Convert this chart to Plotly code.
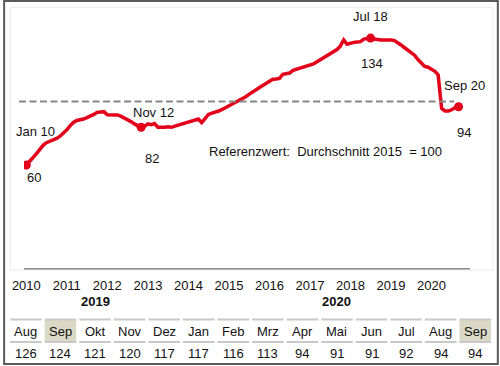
import plotly.graph_objects as go

# ---------------- data ----------------
months = [f"{y}-{m:02d}-01" for y in range(2010, 2021) for m in range(1, 13)][:129]  # Jan 2010 .. Sep 2020

values = [
    # 2010
    60, 62, 64, 66.5, 69, 71.5, 73, 73.8, 74.3, 75.5, 76.8, 78.5,
    # 2011
    80.5, 83, 84.8, 86, 86.3, 86.8, 87.6, 88.3, 89.5, 90.7, 91.1, 91.1,
    # 2012
    89.3, 89.2, 89.2, 89.2, 88.5, 87.6, 86.5, 85.3, 84, 83, 82, 82.5,
    # 2013
    84, 83.5, 84.2, 82, 81.8, 82, 82.3, 82, 82.7, 83.3, 83.7, 84.3,
    # 2014
    84.8, 85.3, 85.8, 86.8, 84.7, 87, 89.5, 90.3, 90.7, 91.5, 92.4, 93.4,
    # 2015
    94.4, 95.3, 96.3, 97.8, 98.8, 99.8, 101.2, 102.3, 103.5, 105, 106.3, 107.5,
    # 2016
    109, 110, 110.2, 110.5, 112.9, 113.2, 113.6, 115.2, 115.8, 116.4, 116.8, 117.3,
    # 2017
    118, 118.9, 120, 121.2, 122.2, 123.5, 125, 126.2, 127.3, 129.3, 132.9, 130.4,
    # 2018
    131.2, 131.5, 131.7, 131.9, 133.4, 133.6, 134, 133.4, 133, 132.9, 132.9, 133,
    # 2019
    132.9, 132.5, 131.5, 130, 128.5, 127, 125.5, 124, 121.5, 119.5, 117.5, 117,
    # 2020
    116, 114.6, 112.5, 93, 91.5, 91.5, 92.2, 93.5, 94,
]

year_ticks = [f"{y}-01-01" for y in range(2010, 2021)]
year_labels = [str(y) for y in range(2010, 2021)]

# highlighted points
hl_dates = ["2010-01-01", "2012-11-01", "2018-07-01", "2020-09-01"]
hl_names = ["Jan 10", "Nov 12", "Jul 18", "Sep 20"]
hl_values = [60, 82, 134, 94]

ref_value = 97          # dashed reference line as drawn
ref_text = "Referenzwert:  Durchschnitt 2015  = 100"

table_months = ["Aug", "Sep", "Okt", "Nov", "Dez", "Jan", "Feb",
                "Mrz", "Apr", "Mai", "Jun", "Jul", "Aug", "Sep"]
table_values = [126, 124, 121, 120, 117, 117, 116, 113, 94, 91, 91, 92, 94, 94]
table_years = {2: "2019", 9: "2020"}
table_highlight = [1, 13]

# ---------------- layout helpers ----------------
W, H = 500, 366
L, R, T, B = 21, 470, 20, 268  # plot area in pixels
RED = "#e3001b"
FONT = "Liberation Sans, Arial, sans-serif"


def px(x):
    return (x - L) / (R - L)


def py(y):
    return (B - y) / (B - T)


fig = go.Figure()

fig.add_trace(go.Scatter(
    x=months, y=values, mode="lines",
    line=dict(color=RED, width=3.5), hoverinfo="skip", showlegend=False))

fig.add_trace(go.Scatter(
    x=hl_dates, y=hl_values, mode="markers",
    marker=dict(color=RED, size=9), hoverinfo="skip", showlegend=False))

# reference dashed line
fig.add_shape(type="line", xref="paper", yref="y",
              x0=px(16), x1=px(454), y0=ref_value, y1=ref_value,
              line=dict(color="#858585", width=2, dash="7px,3.5px"))

annotations = []
name_shift = [(9, 34), (12, 15), (0, 22), (6, 21)]
val_shift = [(8, -12), (11, -31), (1, -25), (5, -26)]
for d, n, v, ns, vs in zip(hl_dates, hl_names, hl_values, name_shift, val_shift):
    annotations.append(dict(x=d, y=v, xref="x", yref="y", text=n, showarrow=False,
                            xshift=ns[0], yshift=ns[1], xanchor="center", yanchor="middle",
                            font=dict(size=13, color="#111")))
    annotations.append(dict(x=d, y=v, xref="x", yref="y", text=str(v), showarrow=False,
                            xshift=vs[0], yshift=vs[1], xanchor="center", yanchor="middle",
                            font=dict(size=13, color="#111")))

annotations.append(dict(x=px(205), y=py(151), xref="paper", yref="paper", text=ref_text,
                        showarrow=False, xanchor="left", yanchor="middle",
                        font=dict(size=13, color="#111")))

# ---------------- table ----------------
col_x0, col_w, gap = 7, 34.8, 3
shapes = []
for i, (mname, val) in enumerate(zip(table_months, table_values)):
    x0 = col_x0 + i * col_w
    x1 = x0 + col_w - gap
    xc = (x0 + x1) / 2
    if i in table_highlight:
        shapes.append(dict(type="rect", xref="paper", yref="paper",
                           x0=px(x0), x1=px(x1), y0=py(342), y1=py(320),
                           fillcolor="#dcd8c6", line=dict(width=0), layer="below"))
    for yy in (319.5, 342):
        shapes.append(dict(type="line", xref="paper", yref="paper",
                           x0=px(x0), x1=px(x1), y0=py(yy), y1=py(yy),
                           line=dict(color="#c8c8c8", width=2)))
    annotations.append(dict(x=px(xc), y=py(331.5), xref="paper", yref="paper", text=mname,
                            showarrow=False, xanchor="center", yanchor="middle",
                            font=dict(size=13, color="#111")))
    annotations.append(dict(x=px(xc), y=py(353), xref="paper", yref="paper", text=str(val),
                            showarrow=False, xanchor="center", yanchor="middle",
                            font=dict(size=13, color="#111")))
    if i in table_years:
        annotations.append(dict(x=px(xc), y=py(301), xref="paper", yref="paper",
                                text=f"<b>{table_years[i]}</b>",
                                showarrow=False, xanchor="center", yanchor="middle",
                                font=dict(size=13, color="#111")))

# frame
shapes.append(dict(type="rect", xref="paper", yref="paper",
                   x0=px(7.5), x1=px(493), y0=py(270), y1=py(7.5),
                   line=dict(color="#ececec", width=1)))
shapes.append(dict(type="rect", xref="paper", yref="paper",
                   x0=px(1), x1=px(W - 2), y0=py(H - 2), y1=py(1),
                   line=dict(color="#5a5a5a", width=2)))

fig.update_layout(
    width=W, height=H,
    margin=dict(l=L, r=W - R, t=T, b=H - B, pad=0),
    paper_bgcolor="white", plot_bgcolor="white",
    font=dict(family=FONT, size=13, color="#111"),
    shapes=fig.layout.shapes + tuple(shapes),
    annotations=annotations,
    xaxis=dict(type="date", range=["2009-12-11", "2020-12-13"],
               tickvals=year_ticks, ticktext=year_labels,
               showgrid=False, zeroline=False,
               showline=True, linecolor="#8a8a8a", linewidth=1.5,
               ticks="outside", ticklen=5, tickcolor="rgba(0,0,0,0)",
               tickfont=dict(size=13, color="#111"), fixedrange=True),
    yaxis=dict(range=[0, (B - T) / 1.716], visible=False, fixedrange=True),
    showlegend=False,
)

fig.write_html(
    "out.html",
    config={"displayModeBar": False},
    post_script="document.body.style.margin='0';document.body.style.overflow='hidden';",
)
